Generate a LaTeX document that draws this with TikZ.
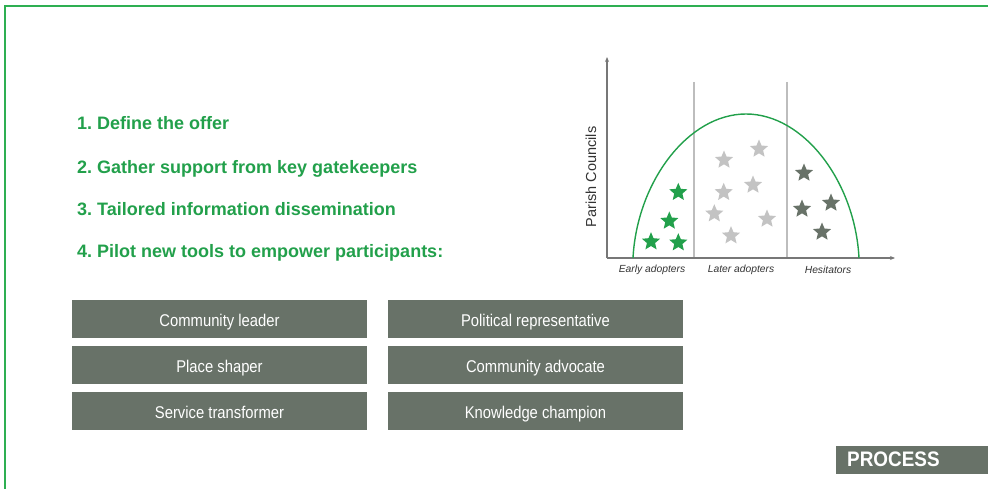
\documentclass[tikz,border=0pt]{standalone}
\usepackage{fontspec}
\setmainfont{Liberation Sans}
\newfontfamily\narrowfont{Liberation Sans}[FakeStretch=0.87]
\newfontfamily\procfont{Liberation Sans}[FakeStretch=0.9]
\usetikzlibrary{shapes.geometric,arrows.meta}
\definecolor{stepgreen}{HTML}{22A04B}
\definecolor{framegreen}{HTML}{2EAF52}
\definecolor{boxgray}{HTML}{687268}
\definecolor{lightstar}{HTML}{C3C3C3}
\definecolor{axisgray}{HTML}{777777}
\definecolor{sepgray}{HTML}{BDBDBD}
\definecolor{labelgray}{HTML}{333333}
\frenchspacing
\begin{document}
\begin{tikzpicture}[x=1pt,y=-1pt,
  steptext/.style={anchor=base west, inner sep=0pt, text=stepgreen, font=\fontsize{18}{20}\selectfont\bfseries},
  rolebox/.style={fill=boxgray, text=white, minimum width=295pt, minimum height=38pt, inner sep=0pt,
    text height=18pt, text depth=3pt, font=\narrowfont\fontsize{17}{19}\selectfont},
  starmark/.style={star, star points=5, star point ratio=2.2, minimum size=19pt, inner sep=0pt, draw=none},
  axisline/.style={axisgray, line width=1.2pt, -{Stealth[length=5pt,width=4pt]}},
  sepline/.style={sepgray, line width=1.5pt},
  catlabel/.style={text=labelgray, font=\fontsize{10.3}{12}\selectfont\itshape, inner sep=0pt}
]
\useasboundingbox (0,0) rectangle (988,489);

% frame
\coordinate (f1) at (5,489);
\coordinate (f2) at (5,6);
\coordinate (f3) at (988,6);
\draw[framegreen, line width=2pt] (f1) -- (f2) -- (f3);

% steps
\node[steptext] (s1) at (77,129.3) {1. Define the offer};
\node[steptext] (s2) at (77,173.3) {2. Gather support from key gatekeepers};
\node[steptext] (s3) at (77,215.7) {3. Tailored information dissemination};
\node[steptext] (s4) at (77,257.3) {4. Pilot new tools to empower participants:};

% role boxes
\node[rolebox] (r1) at (219.5,319) {Community leader};
\node[rolebox] (r2) at (535.5,319) {Political representative};
\node[rolebox] (r3) at (219.5,365) {Place shaper};
\node[rolebox] (r4) at (535.5,365) {Community advocate};
\node[rolebox] (r5) at (219.5,411) {Service transformer};
\node[rolebox] (r6) at (535.5,411) {Knowledge champion};

% process tag
\node[fill=boxgray, minimum width=152pt, minimum height=28pt, inner sep=0pt] (proc) at (912,460) {};
\node[anchor=west, inner sep=0pt, text=white, font=\procfont\fontsize{21}{23}\selectfont\bfseries] (proct) at (847,459.5) {PROCESS};

% chart
\coordinate (o) at (607,258);
\coordinate (ytop) at (607,57);
\coordinate (xend) at (895,258);
\coordinate (sa1) at (694,82);
\coordinate (sa2) at (694,258);
\coordinate (sb1) at (787,82);
\coordinate (sb2) at (787,258);
\draw[sepline] (sa1) -- (sa2);
\draw[sepline] (sb1) -- (sb2);
\draw[axisline] (o) -- (ytop);
\draw[axisline] (o) -- (xend);

\coordinate (cL) at (633,258);
\coordinate (cT) at (746,114);
\coordinate (cR) at (859,258);
\draw[stepgreen, line width=1.4pt] (cL) .. controls (637,182) and (688,114) .. (cT)
  .. controls (804,114) and (855,182) .. (cR);

\node[rotate=90, inner sep=0pt, text=labelgray, font=\fontsize{14.5}{16}\selectfont] (yl) at (591,177) {Parish Councils};
\node[catlabel] (l1) at (652,269.5) {Early adopters};
\node[catlabel] (l2) at (741,269.5) {Later adopters};
\node[catlabel] (l3) at (828,269.5) {Hesitators};

% stars
\node[starmark, fill=stepgreen] (g1) at (678.3,192.3) {};
\node[starmark, fill=stepgreen] (g2) at (669.3,221) {};
\node[starmark, fill=stepgreen] (g3) at (651,241.7) {};
\node[starmark, fill=stepgreen] (g4) at (678.3,242.7) {};

\node[starmark, fill=lightstar] (m1) at (724,160) {};
\node[starmark, fill=lightstar] (m2) at (759,149) {};
\node[starmark, fill=lightstar] (m3) at (723.7,192.3) {};
\node[starmark, fill=lightstar] (m4) at (753,185) {};
\node[starmark, fill=lightstar] (m5) at (714.3,213.7) {};
\node[starmark, fill=lightstar] (m6) at (767,219) {};
\node[starmark, fill=lightstar] (m7) at (731,235.7) {};

\node[starmark, fill=boxgray] (d1) at (804,173) {};
\node[starmark, fill=boxgray] (d2) at (802,209) {};
\node[starmark, fill=boxgray] (d3) at (831,203) {};
\node[starmark, fill=boxgray] (d4) at (822,232) {};
\end{tikzpicture}
\end{document}
